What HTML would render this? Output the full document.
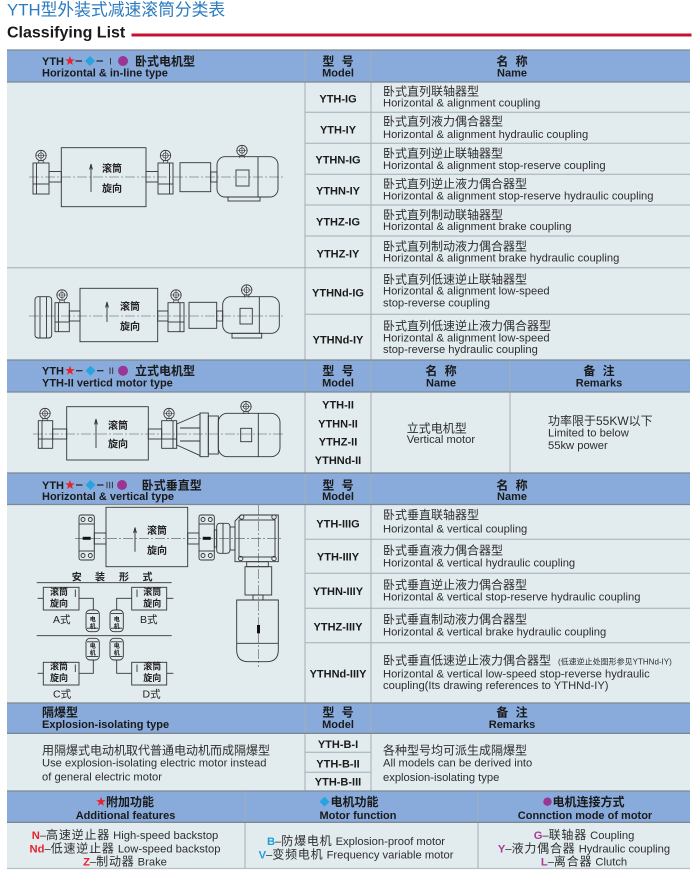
<!DOCTYPE html>
<html><head><meta charset="utf-8"><title>YTH</title>
<style>
html,body{margin:0;padding:0;background:#fff;width:698px;height:871px;overflow:hidden}
svg{display:block}
text{font-family:"Liberation Sans","Noto Sans CJK SC",sans-serif;fill:#262626}
.h{font-size:11px;font-weight:bold;fill:#1a1a1a}
.hc{font-size:12px;font-weight:bold;fill:#1a1a1a}
.m{font-size:11px;font-weight:bold;text-anchor:middle;fill:#1a1a1a}
.n{font-size:11.2px;fill:#2e2e2e}
.nc{font-size:12px;fill:#2e2e2e}
.ctr{text-anchor:middle}
.d rect,.d line,.d path,.d polygon,.d circle{fill:none;stroke:#333;stroke-width:0.9}
.d .cl{stroke:#555;stroke-width:0.6;stroke-dasharray:10 2 2 2}
.d .blk{fill:#111;stroke:none}
.dt{font-size:10px;font-weight:bold;fill:#222}
.ds{font-size:9px;font-weight:bold;fill:#222}
.dm{font-size:6px;font-weight:bold;fill:#222;text-anchor:middle}
.hl line{stroke:#7d8892;stroke-width:1.3}
.gl line{stroke:#a3aeb5;stroke-width:1}
.red{fill:#e8212b;font-weight:bold}
.cyan{fill:#1fa0dc;font-weight:bold}
.mag{fill:#a83c96;font-weight:bold}
.bc{font-size:12px;letter-spacing:0.8px}
</style></head><body>
<svg width="698" height="871" viewBox="0 0 698 871" xmlns="http://www.w3.org/2000/svg">
<defs>
<g id="gear"><circle r="5.2" fill="#e2ebee" stroke="#333" stroke-width="0.8"/><circle r="2.7" fill="none" stroke="#333" stroke-width="0.7"/><path d="M-5.2,0H5.2M0,-5.2V5.2" stroke="#333" stroke-width="0.6"/><path d="M-2.2,4.8V7.5M2.2,4.8V7.5" stroke="#333" stroke-width="0.7"/></g>
<polygon id="star" points="0,-5 1.18,-1.62 4.76,-1.55 1.9,0.62 2.94,4.05 0,2 -2.94,4.05 -1.9,0.62 -4.76,-1.55 -1.18,-1.62" fill="#e8212b"/>
<polygon id="dia" points="0,-5 5,0 0,5 -5,0" fill="#27a4e0"/>
</defs>

<!-- Title -->
<text x="7" y="15.5" style="font-size:16.8px;fill:#2b7bc0">YTH型外装式减速滚筒分类表</text>
<text x="7" y="37.7" style="font-size:16px;font-weight:bold;fill:#1a1a1a">Classifying List</text>
<rect x="131.5" y="33.5" width="560" height="3" fill="#c4122f"/>

<!-- backgrounds -->
<rect x="7" y="50" width="683" height="32" fill="#88abdb"/>
<rect x="7" y="82" width="683" height="278" fill="#e2ebee"/>
<rect x="7" y="360" width="683" height="32" fill="#88abdb"/>
<rect x="7" y="392" width="683" height="81" fill="#e2ebee"/>
<rect x="7" y="473" width="683" height="31.5" fill="#88abdb"/>
<rect x="7" y="504.5" width="683" height="198.5" fill="#e2ebee"/>
<rect x="7" y="703" width="683" height="30.3" fill="#88abdb"/>
<rect x="7" y="733.3" width="683" height="57.7" fill="#e2ebee"/>
<rect x="7" y="791" width="683" height="31.3" fill="#88abdb"/>
<rect x="7" y="822.3" width="683" height="45.7" fill="#e2ebee"/>

<!-- grid -->
<g class="gl">
<line x1="305" y1="112.3" x2="690" y2="112.3"/>
<line x1="305" y1="143.3" x2="690" y2="143.3"/>
<line x1="305" y1="174.3" x2="690" y2="174.3"/>
<line x1="305" y1="205" x2="690" y2="205"/>
<line x1="305" y1="236" x2="690" y2="236"/>
<line x1="7" y1="267.7" x2="690" y2="267.7"/>
<line x1="305" y1="314.3" x2="690" y2="314.3"/>
<line x1="305" y1="539.3" x2="690" y2="539.3"/>
<line x1="305" y1="573.3" x2="690" y2="573.3"/>
<line x1="305" y1="608.3" x2="690" y2="608.3"/>
<line x1="305" y1="642.7" x2="690" y2="642.7"/>
<line x1="305" y1="752.3" x2="371" y2="752.3"/>
<line x1="305" y1="772.3" x2="371" y2="772.3"/>
<line x1="305" y1="50" x2="305" y2="791"/>
<line x1="371" y1="50" x2="371" y2="791"/>
<line x1="510" y1="360" x2="510" y2="473"/>
<line x1="245" y1="791" x2="245" y2="868"/>
<line x1="478" y1="791" x2="478" y2="868"/>
</g>
<g class="hl">
<line x1="7" y1="50" x2="690" y2="50"/>
<line x1="7" y1="82" x2="690" y2="82"/>
<line x1="7" y1="360" x2="690" y2="360"/>
<line x1="7" y1="392" x2="690" y2="392"/>
<line x1="7" y1="473" x2="690" y2="473"/>
<line x1="7" y1="504.5" x2="690" y2="504.5"/>
<line x1="7" y1="703" x2="690" y2="703"/>
<line x1="7" y1="733.3" x2="690" y2="733.3"/>
<line x1="7" y1="791" x2="690" y2="791"/>
<line x1="7" y1="822.3" x2="690" y2="822.3"/>
<line x1="7" y1="868.5" x2="690" y2="868.5" style="stroke:#b9c0c5"/>
</g>

<!-- Header I -->
<text class="h" x="42" y="65">YTH</text>
<use href="#star" x="70" y="61"/>
<line x1="75.5" y1="61" x2="82" y2="61" stroke="#222" stroke-width="1.2"/>
<use href="#dia" x="90" y="61"/>
<line x1="96.5" y1="61" x2="103" y2="61" stroke="#222" stroke-width="1.2"/>
<line x1="110.5" y1="58" x2="110.5" y2="64.5" stroke="#333" stroke-width="1"/>
<circle cx="123" cy="61" r="5" fill="#9a3594"/>
<text class="hc" x="135" y="65.5">卧式电机型</text>
<text class="h" x="42" y="76.5">Horizontal &amp; in-line type</text>
<text class="m" x="339" y="65.5" style="font-size:12px;letter-spacing:2px">型 号</text>
<text class="m" x="338" y="76.5">Model</text>
<text class="m" x="513" y="65.5" style="font-size:12px;letter-spacing:2px">名 称</text>
<text class="m" x="512" y="76.5">Name</text>

<!-- Body I models -->
<text class="m" x="338" y="102.3">YTH-IG</text>
<text class="m" x="338" y="133.3">YTH-IY</text>
<text class="m" x="338" y="163.3">YTHN-IG</text>
<text class="m" x="338" y="194.7">YTHN-IY</text>
<text class="m" x="338" y="225.7">YTHZ-IG</text>
<text class="m" x="338" y="257.3">YTHZ-IY</text>
<text class="m" x="338" y="296.7">YTHNd-IG</text>
<text class="m" x="338" y="343.3">YTHNd-IY</text>

<!-- Body I names -->
<text class="nc" x="383" y="95.7">卧式直列联轴器型</text>
<text class="n" x="383" y="106.7">Horizontal &amp; alignment coupling</text>
<text class="nc" x="383" y="125.7">卧式直列液力偶合器型</text>
<text class="n" x="383" y="138">Horizontal &amp; alignment hydraulic coupling</text>
<text class="nc" x="383" y="157.3">卧式直列逆止联轴器型</text>
<text class="n" x="383" y="169">Horizontal &amp; alignment stop-reserve coupling</text>
<text class="nc" x="383" y="188">卧式直列逆止液力偶合器型</text>
<text class="n" x="383" y="199.7">Horizontal &amp; alignment stop-reserve hydraulic coupling</text>
<text class="nc" x="383" y="219">卧式直列制动联轴器型</text>
<text class="n" x="383" y="230">Horizontal &amp; alignment brake coupling</text>
<text class="nc" x="383" y="250.7">卧式直列制动液力偶合器型</text>
<text class="n" x="383" y="261.3">Horizontal &amp; alignment brake hydraulic coupling</text>
<text class="nc" x="383" y="283.3">卧式直列低速逆止联轴器型</text>
<text class="n" x="383" y="294.7">Horizontal &amp; alignment low-speed</text>
<text class="n" x="383" y="306.3">stop-reverse coupling</text>
<text class="nc" x="383" y="330">卧式直列低速逆止液力偶合器型</text>
<text class="n" x="383" y="341.3">Horizontal &amp; alignment low-speed</text>
<text class="n" x="383" y="353">stop-reverse hydraulic coupling</text>

<!-- Header II -->
<text class="h" x="42" y="374.7">YTH</text>
<use href="#star" x="70" y="370.7"/>
<line x1="76" y1="370.7" x2="82.5" y2="370.7" stroke="#222" stroke-width="1.2"/>
<use href="#dia" x="90.5" y="370.7"/>
<line x1="97" y1="370.7" x2="103.5" y2="370.7" stroke="#222" stroke-width="1.2"/>
<line x1="110" y1="367.5" x2="110" y2="374" stroke="#333" stroke-width="1"/>
<line x1="112.7" y1="367.5" x2="112.7" y2="374" stroke="#333" stroke-width="1"/>
<circle cx="123" cy="370.7" r="5" fill="#9a3594"/>
<text class="hc" x="135" y="375.2">立式电机型</text>
<text class="h" x="42" y="386.7">YTH-II verticd motor type</text>
<text class="m" x="339" y="375" style="font-size:12px;letter-spacing:2px">型 号</text>
<text class="m" x="338" y="386.7">Model</text>
<text class="m" x="442" y="375" style="font-size:12px;letter-spacing:2px">名 称</text>
<text class="m" x="441" y="386.7">Name</text>
<text class="m" x="600" y="375" style="font-size:12px;letter-spacing:2px">备 注</text>
<text class="m" x="599" y="386.7">Remarks</text>

<!-- Body II -->
<text class="m" x="338" y="408.3">YTH-II</text>
<text class="m" x="338" y="427.3">YTHN-II</text>
<text class="m" x="338" y="445.7">YTHZ-II</text>
<text class="m" x="338" y="464">YTHNd-II</text>
<text class="nc" x="406.7" y="432.3">立式电机型</text>
<text class="n" x="406.7" y="443">Vertical motor</text>
<text class="nc" x="548" y="425">功率限于55KW以下</text>
<text class="n" x="548" y="436.7">Limited to below</text>
<text class="n" x="548" y="449">55kw power</text>

<!-- Header III -->
<text class="h" x="42" y="489">YTH</text>
<use href="#star" x="70" y="485"/>
<line x1="76" y1="485" x2="82.5" y2="485" stroke="#222" stroke-width="1.2"/>
<use href="#dia" x="90.5" y="485"/>
<line x1="97" y1="485" x2="103.5" y2="485" stroke="#222" stroke-width="1.2"/>
<line x1="107" y1="481.8" x2="107" y2="488.3" stroke="#333" stroke-width="1"/>
<line x1="109.7" y1="481.8" x2="109.7" y2="488.3" stroke="#333" stroke-width="1"/>
<line x1="112.4" y1="481.8" x2="112.4" y2="488.3" stroke="#333" stroke-width="1"/>
<circle cx="122" cy="485" r="5" fill="#9a3594"/>
<text class="hc" x="141.7" y="489.5">卧式垂直型</text>
<text class="h" x="42" y="500">Horizontal &amp; vertical type</text>
<text class="m" x="339" y="489.3" style="font-size:12px;letter-spacing:2px">型 号</text>
<text class="m" x="338" y="500">Model</text>
<text class="m" x="513" y="489.3" style="font-size:12px;letter-spacing:2px">名 称</text>
<text class="m" x="512" y="500">Name</text>

<!-- Body III -->
<text class="m" x="338" y="527.3">YTH-IIIG</text>
<text class="m" x="338" y="560.7">YTH-IIIY</text>
<text class="m" x="338" y="595">YTHN-IIIY</text>
<text class="m" x="338" y="630.7">YTHZ-IIIY</text>
<text class="m" x="338" y="677.3">YTHNd-IIIY</text>
<text class="nc" x="383" y="519">卧式垂直联轴器型</text>
<text class="n" x="383" y="532.3">Horizontal &amp; vertical coupling</text>
<text class="nc" x="383" y="554.7">卧式垂直液力偶合器型</text>
<text class="n" x="383" y="566.7">Horizontal &amp; vertical hydraulic coupling</text>
<text class="nc" x="383" y="589">卧式垂直逆止液力偶合器型</text>
<text class="n" x="383" y="600.7">Horizontal &amp; vertical stop-reserve hydraulic coupling</text>
<text class="nc" x="383" y="623.3">卧式垂直制动液力偶合器型</text>
<text class="n" x="383" y="635.7">Horizontal &amp; vertical brake hydraulic coupling</text>
<text class="nc" x="383" y="664.7">卧式垂直低速逆止液力偶合器型<tspan x="558" style="font-size:8px">(低速逆止处图形参见YTHNd-IY)</tspan></text>
<text class="n" x="383" y="677.3">Horizontal &amp; vertical low-speed stop-reverse hydraulic</text>
<text class="n" x="383" y="689">coupling(Its drawing references to YTHNd-IY)</text>

<!-- Header Explosion -->
<text class="hc" x="42" y="716.7">隔爆型</text>
<text class="h" x="42" y="728">Explosion-isolating type</text>
<text class="m" x="339" y="716.7" style="font-size:12px;letter-spacing:2px">型 号</text>
<text class="m" x="338" y="728">Model</text>
<text class="m" x="513" y="716.7" style="font-size:12px;letter-spacing:2px">备 注</text>
<text class="m" x="512" y="728">Remarks</text>

<!-- Body Explosion -->
<text class="nc" x="42" y="754.7">用隔爆式电动机取代普通电动机而成隔爆型</text>
<text class="n" x="42" y="766.7">Use explosion-isolating electric motor instead</text>
<text class="n" x="42" y="780.7">of general electric motor</text>
<text class="m" x="338" y="748">YTH-B-I</text>
<text class="m" x="338" y="767.3">YTH-B-II</text>
<text class="m" x="338" y="785.5">YTH-B-III</text>
<text class="nc" x="383" y="754.7">各种型号均可派生成隔爆型</text>
<text class="n" x="383" y="766.7">All models can be derived into</text>
<text class="n" x="383" y="781">explosion-isolating type</text>

<!-- Bottom header -->
<use href="#star" x="101" y="801.7"/>
<text class="hc" x="106" y="806.2">附加功能</text>
<text class="h ctr" x="125.5" y="819">Additional features</text>
<use href="#dia" x="324.5" y="801.7"/>
<text class="hc" x="330.5" y="806.2">电机功能</text>
<text class="h ctr" x="358" y="819">Motor function</text>
<circle cx="547.5" cy="801.7" r="4.2" fill="#9a3594"/>
<text class="hc" x="552.5" y="806.2">电机连接方式</text>
<text class="h ctr" x="585" y="819">Connction mode of motor</text>

<!-- Bottom body -->
<text class="n ctr" x="125" y="839"><tspan class="red">N</tspan><tspan>–</tspan><tspan class="bc">高速逆止器</tspan><tspan> High-speed backstop</tspan></text>
<text class="n ctr" x="125" y="852.3"><tspan class="red">Nd</tspan><tspan>–</tspan><tspan class="bc">低速逆止器</tspan><tspan> Low-speed backstop</tspan></text>
<text class="n ctr" x="125" y="865.7"><tspan class="red">Z</tspan><tspan>–</tspan><tspan class="bc">制动器</tspan><tspan> Brake</tspan></text>
<text class="n ctr" x="356" y="845"><tspan class="cyan">B</tspan><tspan>–</tspan><tspan class="bc">防爆电机</tspan><tspan> Explosion-proof motor</tspan></text>
<text class="n ctr" x="356" y="858.3"><tspan class="cyan">V</tspan><tspan>–</tspan><tspan class="bc">变频电机</tspan><tspan> Frequency variable motor</tspan></text>
<text class="n ctr" x="584" y="839"><tspan class="mag">G</tspan><tspan>–</tspan><tspan class="bc">联轴器</tspan><tspan> Coupling</tspan></text>
<text class="n ctr" x="584" y="852.3"><tspan class="mag">Y</tspan><tspan>–</tspan><tspan class="bc">液力偶合器</tspan><tspan> Hydraulic coupling</tspan></text>
<text class="n ctr" x="584" y="865.7"><tspan class="mag">L</tspan><tspan>–</tspan><tspan class="bc">离合器</tspan><tspan> Clutch</tspan></text>

<!-- Diagram 1 -->
<g class="d">
<line class="cl" x1="29" y1="177" x2="285" y2="177"/>
<rect x="33" y="163" width="16" height="31"/>
<line x1="36.5" y1="163" x2="36.5" y2="194"/>
<line x1="33" y1="184" x2="49" y2="184"/>
<rect x="49" y="171.5" width="12.3" height="10.5"/>
<rect x="61.3" y="147.7" width="84.7" height="59"/>
<line x1="91" y1="192" x2="91" y2="165"/>
<path d="M89.6,169.5 L91,164 L92.4,169.5"/>
<rect x="146" y="171.5" width="12" height="10.5"/>
<rect x="158" y="163" width="15" height="31"/>
<line x1="169.5" y1="163" x2="169.5" y2="194"/>
<line x1="158" y1="184" x2="173" y2="184"/>
<rect x="180" y="162.7" width="30.7" height="29"/>
<rect x="210.7" y="172" width="6.3" height="10"/>
<rect x="217" y="156.7" width="61" height="40.3" rx="8"/>
<line x1="258" y1="157" x2="258" y2="197"/>
<rect x="236" y="170" width="13" height="16"/>
<rect x="228" y="197" width="32" height="4"/>
</g>
<use href="#gear" x="41" y="155.5"/>
<use href="#gear" x="165.5" y="155.5"/>
<use href="#gear" x="242" y="150.5"/>
<text class="dt" x="102" y="172">滚筒</text>
<text class="dt" x="102" y="192">旋向</text>

<!-- Diagram 2 -->
<g class="d">
<line class="cl" x1="29" y1="316" x2="285" y2="316"/>
<rect x="35" y="296.7" width="16.7" height="41.3" rx="3"/>
<line x1="40" y1="297" x2="40" y2="338"/>
<line x1="46.5" y1="297" x2="46.5" y2="338"/>
<rect x="55" y="302.7" width="14.3" height="29"/>
<line x1="58.5" y1="302.7" x2="58.5" y2="331.7"/>
<line x1="55" y1="322" x2="69.3" y2="322"/>
<rect x="69.3" y="311" width="10.7" height="10"/>
<rect x="80" y="288.3" width="77.7" height="53.4"/>
<line x1="107" y1="322" x2="107" y2="303"/>
<path d="M105.6,307.5 L107,302 L108.4,307.5"/>
<rect x="157.7" y="311" width="10.3" height="10"/>
<rect x="168" y="302.7" width="16" height="29"/>
<line x1="180" y1="302.7" x2="180" y2="331.7"/>
<line x1="168" y1="322" x2="184" y2="322"/>
<rect x="189" y="302.3" width="27.7" height="26"/>
<rect x="216.7" y="311" width="6" height="10"/>
<rect x="222.7" y="296.7" width="56.6" height="36.6" rx="8"/>
<line x1="259.3" y1="297" x2="259.3" y2="333"/>
<rect x="240" y="308.3" width="12.3" height="15.7"/>
<rect x="232" y="333.3" width="29.7" height="4.7"/>
</g>
<use href="#gear" x="62" y="295"/>
<use href="#gear" x="176" y="295"/>
<use href="#gear" x="246.7" y="290"/>
<text class="dt" x="120" y="310">滚筒</text>
<text class="dt" x="120" y="330">旋向</text>

<!-- Diagram 3 -->
<g class="d">
<line class="cl" x1="33" y1="434" x2="283" y2="434"/>
<rect x="38.3" y="420.7" width="14.4" height="27.6"/>
<line x1="42" y1="420.7" x2="42" y2="448.3"/>
<line x1="38.3" y1="439" x2="52.7" y2="439"/>
<rect x="52.7" y="429" width="14" height="10"/>
<rect x="66.7" y="406.7" width="81.6" height="53.3"/>
<line x1="96" y1="448" x2="96" y2="420"/>
<path d="M94.6,424.5 L96,419 L97.4,424.5"/>
<rect x="148.3" y="429" width="13.4" height="10"/>
<rect x="161.7" y="420.7" width="15" height="27.6"/>
<line x1="173" y1="420.7" x2="173" y2="448.3"/>
<line x1="161.7" y1="439" x2="176.7" y2="439"/>
<polygon points="176.7,424 200,414 200,455.5 176.7,445"/>
<line x1="180" y1="428" x2="200" y2="428"/>
<line x1="180" y1="441" x2="200" y2="441"/>
<rect x="200" y="413" width="8.3" height="43.7"/>
<rect x="208.3" y="416" width="10" height="38"/>
<rect x="218.3" y="413.3" width="61.7" height="43.4" rx="9"/>
<line x1="258.3" y1="413.5" x2="258.3" y2="456.5"/>
<rect x="240.7" y="428.3" width="11" height="13.4"/>
</g>
<use href="#gear" x="45" y="413.5"/>
<use href="#gear" x="169" y="413.5"/>
<use href="#gear" x="246" y="406.5"/>
<text class="dt" x="108" y="429">滚筒</text>
<text class="dt" x="108" y="447.3">旋向</text>

<!-- Diagram 4 -->
<g class="d">
<line class="cl" x1="75" y1="538.3" x2="283" y2="538.3"/>
<line class="cl" x1="258.3" y1="505" x2="258.3" y2="667"/>
<rect x="79" y="515" width="15.3" height="45" rx="2"/>
<line x1="79" y1="524" x2="94.3" y2="524"/>
<line x1="79" y1="551" x2="94.3" y2="551"/>
<circle cx="83" cy="519.5" r="2"/><circle cx="90.3" cy="519.5" r="2"/>
<circle cx="83" cy="555.5" r="2"/><circle cx="90.3" cy="555.5" r="2"/>
<rect class="blk" x="82.7" y="536.8" width="8" height="3"/>
<rect x="94.3" y="533" width="11.7" height="11"/>
<rect x="106" y="507.3" width="81.7" height="59.4"/>
<line x1="135" y1="551.7" x2="135" y2="528.3"/>
<path d="M133.6,533 L135,527.5 L136.4,533"/>
<rect x="187.7" y="533" width="11.3" height="11"/>
<rect x="199" y="515" width="15.3" height="45" rx="2"/>
<line x1="199" y1="524" x2="214.3" y2="524"/>
<line x1="199" y1="551" x2="214.3" y2="551"/>
<circle cx="203" cy="519.5" r="2"/><circle cx="210.3" cy="519.5" r="2"/>
<circle cx="203" cy="555.5" r="2"/><circle cx="210.3" cy="555.5" r="2"/>
<rect class="blk" x="202.7" y="536.8" width="8" height="3"/>
<rect x="214.3" y="530" width="2.4" height="17"/>
<rect x="216.7" y="523.3" width="13.3" height="30" rx="3"/>
<line x1="223" y1="523.5" x2="223" y2="553"/>
<rect x="230" y="527" width="5" height="23"/>
<path d="M241,515 H278.3 V561.7 H235 V521 Z"/>
<rect x="239" y="520" width="36" height="37"/>
<circle cx="241.7" cy="517" r="2.2"/><circle cx="274" cy="517" r="2.2"/>
<circle cx="240.7" cy="558.5" r="2.2"/><circle cx="274" cy="558.5" r="2.2"/>
<rect x="246.7" y="561.7" width="21.6" height="5"/>
<rect x="245" y="566.7" width="26.7" height="28.3"/>
<rect x="253" y="595" width="10" height="5"/>
<path d="M236.7,600 H278.3 V650 Q278.3,661.7 266.7,661.7 H248.3 Q236.7,661.7 236.7,650 Z"/>
<line x1="236.7" y1="643.3" x2="278.3" y2="643.3"/>
<rect class="blk" x="257" y="625" width="3" height="8.3"/>

<!-- installation forms -->
<line x1="36.7" y1="582.7" x2="171.7" y2="582.7"/>
<line x1="36.7" y1="635.7" x2="171.7" y2="635.7"/>
<!-- A -->
<rect x="43.3" y="587.3" width="35.7" height="22.7"/>
<line x1="37.7" y1="598.3" x2="43.3" y2="598.3"/>
<path d="M79,598.3 H93.3 V610"/>
<line x1="75.3" y1="589.5" x2="75.3" y2="597"/>
<rect x="86" y="610" width="13.3" height="21.7" rx="4"/>
<line x1="87" y1="613.5" x2="98.3" y2="613.5"/>
<line x1="87" y1="628.2" x2="98.3" y2="628.2"/>
<!-- B -->
<rect x="110" y="610" width="13.3" height="21.7" rx="4"/>
<line x1="111" y1="613.5" x2="122.3" y2="613.5"/>
<line x1="111" y1="628.2" x2="122.3" y2="628.2"/>
<path d="M116.7,610 V598.3 H131.7"/>
<rect x="131.7" y="587.3" width="35" height="22.7"/>
<line x1="166.7" y1="598.3" x2="173.3" y2="598.3"/>
<line x1="137" y1="589.5" x2="137" y2="597"/>
<!-- C -->
<rect x="86" y="638.3" width="13.3" height="21.7" rx="4"/>
<line x1="87" y1="641.8" x2="98.3" y2="641.8"/>
<line x1="87" y1="656.5" x2="98.3" y2="656.5"/>
<rect x="43.3" y="662.3" width="35.7" height="22.7"/>
<line x1="37.7" y1="673.3" x2="43.3" y2="673.3"/>
<path d="M79,673.3 H93.3 V660"/>
<line x1="75.3" y1="664.5" x2="75.3" y2="672"/>
<!-- D -->
<rect x="110" y="638.3" width="13.3" height="21.7" rx="4"/>
<line x1="111" y1="641.8" x2="122.3" y2="641.8"/>
<line x1="111" y1="656.5" x2="122.3" y2="656.5"/>
<path d="M116.7,660 V673.3 H131.7"/>
<rect x="131.7" y="662.3" width="35" height="22.7"/>
<line x1="166.7" y1="673.3" x2="173.3" y2="673.3"/>
<line x1="137" y1="664.5" x2="137" y2="672"/>
</g>
<text class="dt" x="147" y="534">滚筒</text>
<text class="dt" x="147" y="554">旋向</text>
<text class="dt" x="71.7" y="580.5">安</text>
<text class="dt" x="95" y="580.5">装</text>
<text class="dt" x="119" y="580.5">形</text>
<text class="dt" x="142.5" y="580.5">式</text>
<text class="ds" x="50" y="595">滚筒</text>
<text class="ds" x="50" y="606.5">旋向</text>
<text class="ds" x="143.3" y="595">滚筒</text>
<text class="ds" x="143.3" y="606.5">旋向</text>
<text class="ds" x="50" y="669.5">滚筒</text>
<text class="ds" x="50" y="681">旋向</text>
<text class="ds" x="143.3" y="669.5">滚筒</text>
<text class="ds" x="143.3" y="681">旋向</text>
<text class="dm" x="92.7" y="621.5">电</text>
<text class="dm" x="92.7" y="628.5">机</text>
<text class="dm" x="116.7" y="621.5">电</text>
<text class="dm" x="116.7" y="628.5">机</text>
<text class="dm" x="92.7" y="648">电</text>
<text class="dm" x="92.7" y="655">机</text>
<text class="dm" x="116.7" y="648">电</text>
<text class="dm" x="116.7" y="655">机</text>
<text x="53" y="623" style="font-size:10.5px;fill:#222">A式</text>
<text x="140" y="623" style="font-size:10.5px;fill:#222">B式</text>
<text x="53" y="697.5" style="font-size:10.5px;fill:#222">C式</text>
<text x="142.5" y="697.5" style="font-size:10.5px;fill:#222">D式</text>
</svg>
</body></html>
